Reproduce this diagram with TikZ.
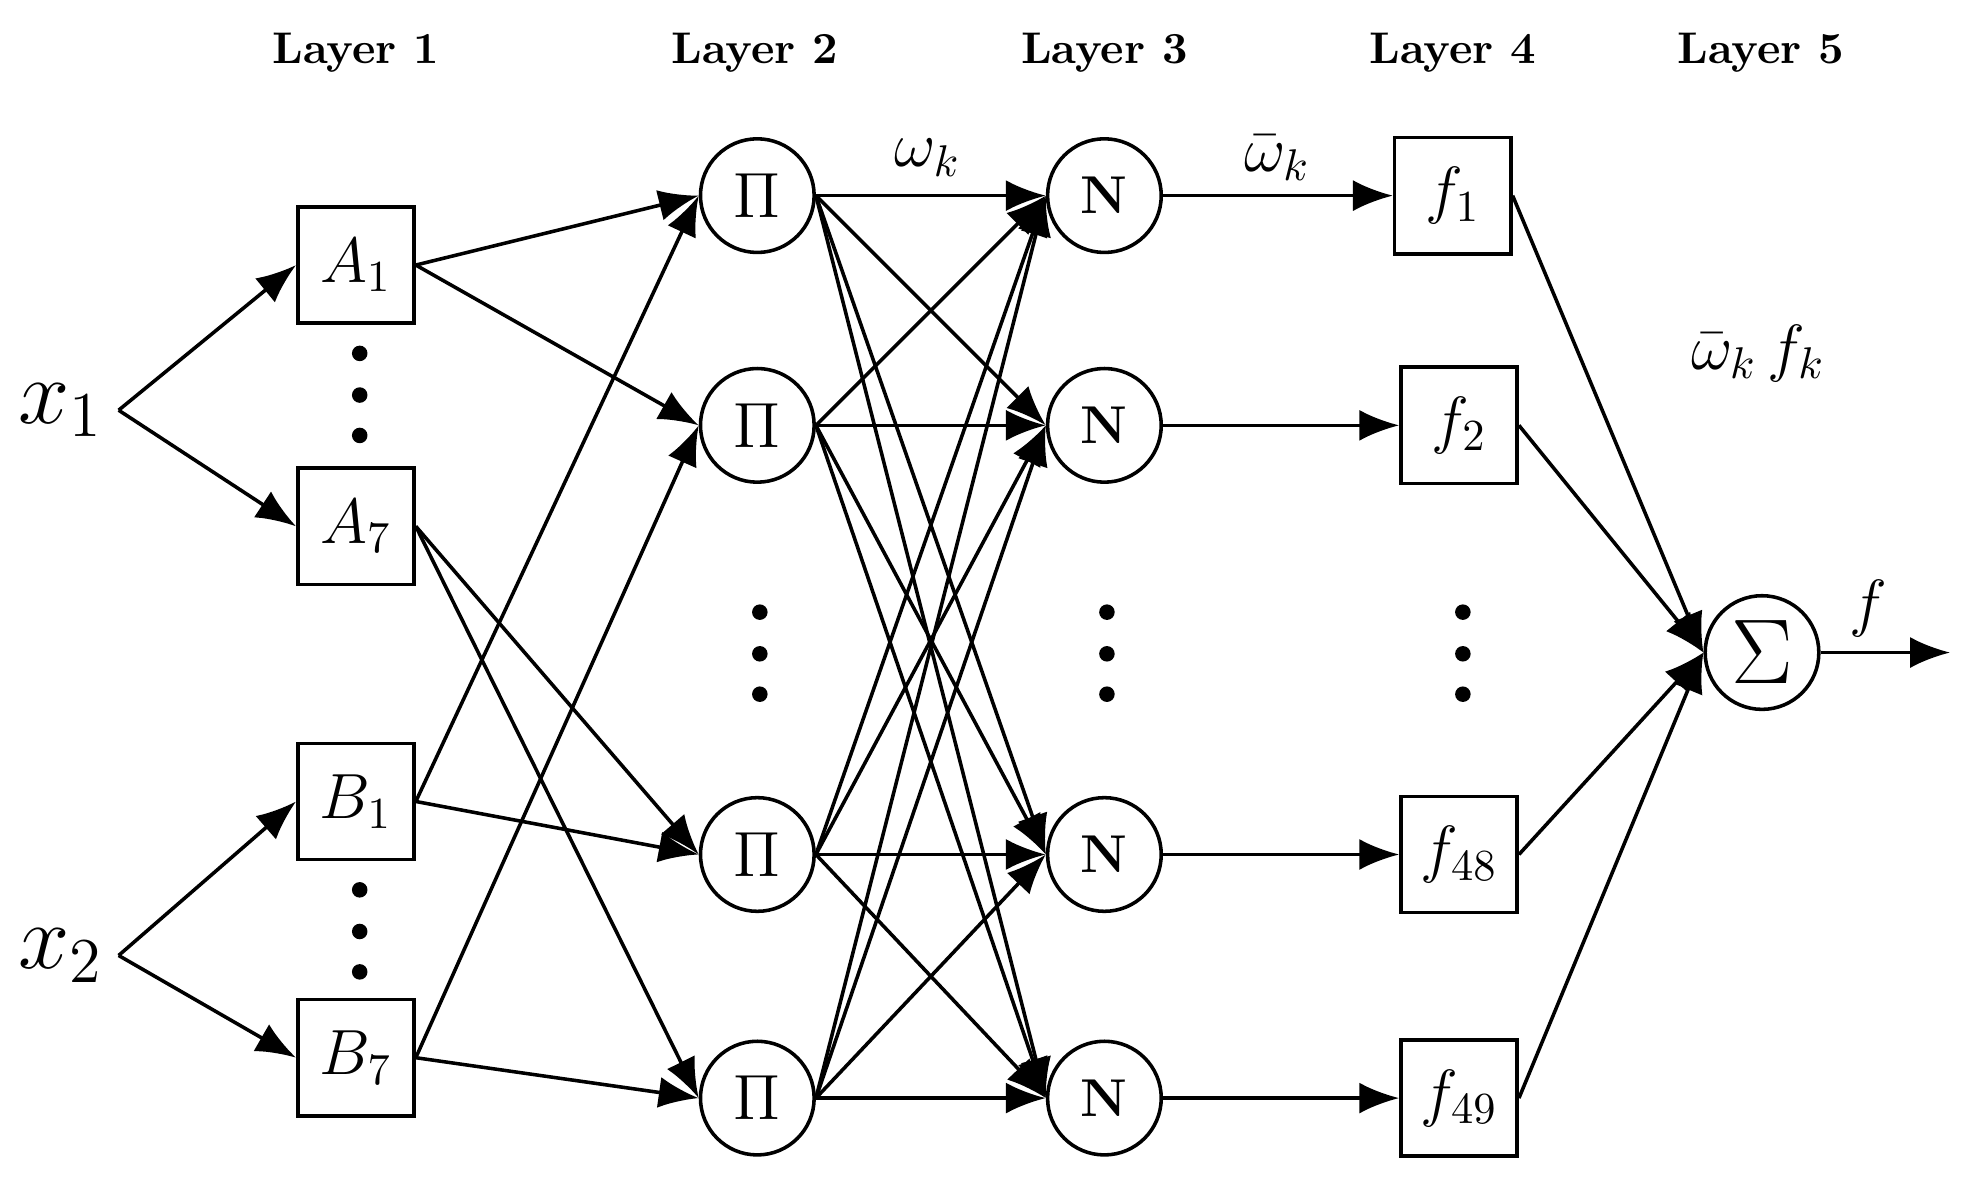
\documentclass[tikz,border=0pt]{standalone}
\usepackage{amsmath, amssymb}
\usetikzlibrary{arrows.meta, positioning, calc}

\begin{document}
\begin{tikzpicture}[x=0.01cm, y=-0.01cm,
  link/.style={draw=black, thick, -{Latex[length=9pt, width=7pt]}},
  memb/.style={draw=black, thick, minimum size=0.92cm, inner sep=0pt, font=\Large},
  unit/.style={draw=black, thick, circle, minimum size=0.9cm, inner sep=0pt, font=\Large},
  head/.style={font=\bfseries},
  vdots/.style={circle, fill=black, inner sep=0pt, minimum size=3.5pt},
]
  \useasboundingbox (0,0) rectangle (1560,937);

  % Layer headings
  \foreach \x/\n in {282/1, 598/2, 875/3, 1151/4, 1395/5}
    \node[head] (head\n) at (\x,42) {Layer \n};

  % Inputs
  \node[font=\huge] (x1) at (48,325) {$x_1$};
  \node[font=\huge] (x2) at (48,757) {$x_2$};

  % Layer 1: membership functions
  \node[memb] (A1) at (282,210) {$A_1$};
  \node[memb] (A7) at (282,417) {$A_7$};
  \node[memb] (B1) at (282,635) {$B_1$};
  \node[memb] (B7) at (282,838) {$B_7$};

  % Layer 2 and 3: product and normalisation
  \foreach \i/\y in {1/155, 2/337, 3/677, 4/870} {
    \node[unit] (P\i) at (600,\y) {$\Pi$};
    \node[unit, font=\large\bfseries] (N\i) at (875,\y) {N};
  }

  % Layer 4: consequents
  \node[memb] (F1) at (1151,155) {$f_1$};
  \node[memb] (F2) at (1156,337) {$f_2$};
  \node[memb] (F3) at (1156,677) {$f_{48}$};
  \node[memb] (F4) at (1156,870) {$f_{49}$};

  % Layer 5: sum
  \node[unit, font=\huge] (S) at (1396,517) {$\Sigma$};
  \coordinate (out) at (1545,517);

  % Ellipsis dots
  \foreach \x/\y in {285/280, 285/313, 285/345, 285/705, 285/738, 285/770,
                     602/485, 602/518, 602/550, 877/485, 877/518, 877/550,
                     1159/485, 1159/518, 1159/550}
    \node[vdots] at (\x,\y) {};

  % Labels
  \node[font=\Large] (wk) at (735,125) {$\omega_k$};
  \node[font=\Large] (wbar) at (1012,125) {$\bar{\omega}_k$};
  \node[font=\Large] (wf) at (1393,280) {$\bar{\omega}_k\, f_k$};
  \node[font=\Large] (fout) at (1480,482) {$f$};

  % Inputs -> layer 1
  \draw[link] (x1.east) -- (A1.west);
  \draw[link] (x1.east) -- (A7.west);
  \draw[link] (x2.east) -- (B1.west);
  \draw[link] (x2.east) -- (B7.west);

  % Layer 1 -> layer 2
  \draw[link] (A1.east) -- (P1.west);
  \draw[link] (A1.east) -- (P2.west);
  \draw[link] (A7.east) -- (P3.west);
  \draw[link] (A7.east) -- (P4.west);
  \draw[link] (B1.east) -- (P1.west);
  \draw[link] (B1.east) -- (P3.west);
  \draw[link] (B7.east) -- (P2.west);
  \draw[link] (B7.east) -- (P4.west);

  % Layer 2 -> layer 3 (all to all)
  \foreach \i in {1,...,4}
    \foreach \j in {1,...,4}
      \draw[link] (P\i.east) -- (N\j.west);

  % Layer 3 -> layer 4 -> layer 5
  \foreach \i in {1,...,4} {
    \draw[link] (N\i) -- (F\i);
    \draw[link] (F\i.east) -- (S.west);
  }
  \draw[link] (S) -- (out);
\end{tikzpicture}
\end{document}
